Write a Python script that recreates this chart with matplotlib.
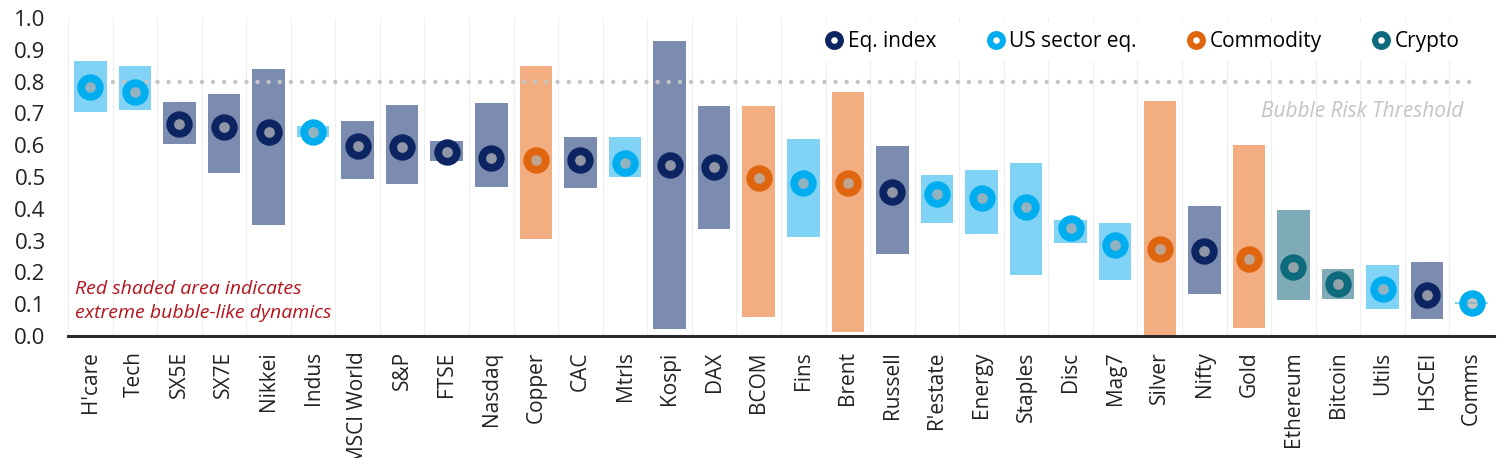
import numpy as np
import matplotlib
matplotlib.use("Agg")
import matplotlib.pyplot as plt
from matplotlib.lines import Line2D
from matplotlib import font_manager

names = ["H'care", "Tech", "SX5E", "SX7E", "Nikkei", "Indus", "MSCI World", "S&P", "FTSE",
         "Nasdaq", "Copper", "CAC", "Mtrls", "Kospi", "DAX", "BCOM", "Fins", "Brent",
         "Russell", "R'estate", "Energy", "Staples", "Disc", "Mag7", "Silver", "Nifty",
         "Gold", "Ethereum", "Bitcoin", "Utils", "HSCEI", "Comms"]
kinds = ["U", "U", "E", "E", "E", "U", "E", "E", "E", "E", "C", "E", "U", "E", "E", "C",
         "U", "C", "E", "U", "U", "U", "U", "U", "C", "E", "C", "K", "K", "U", "E", "U"]
current = [0.784, 0.766, 0.666, 0.656, 0.643, 0.643, 0.598, 0.593, 0.580, 0.559, 0.553,
           0.553, 0.545, 0.538, 0.532, 0.496, 0.482, 0.482, 0.454, 0.446, 0.435, 0.407,
           0.341, 0.286, 0.275, 0.266, 0.243, 0.216, 0.164, 0.148, 0.130, 0.105]
low = [0.704, 0.712, 0.604, 0.513, 0.348, 0.627, 0.495, 0.479, 0.549, 0.470, 0.305, 0.466,
       0.500, 0.021, 0.336, 0.060, 0.311, 0.014, 0.257, 0.354, 0.321, 0.192, 0.291, 0.176,
       0.003, 0.132, 0.024, 0.114, 0.117, 0.086, 0.054, 0.102]
high = [0.865, 0.850, 0.737, 0.760, 0.840, 0.660, 0.677, 0.725, 0.613, 0.734, 0.848, 0.625,
        0.627, 0.929, 0.722, 0.724, 0.620, 0.768, 0.597, 0.507, 0.521, 0.543, 0.365, 0.355,
        0.738, 0.410, 0.601, 0.395, 0.211, 0.222, 0.232, 0.108]
threshold = 0.8

kind_labels = {"E": "Eq. index", "U": "US sector eq.", "C": "Commodity", "K": "Crypto"}
ring_col = {"E": "#0c2461", "U": "#00aeef", "C": "#e0650f", "K": "#0d6b7d"}
box_col = {"E": "#7c8bb0", "U": "#80d3f5", "C": "#f2ae80", "K": "#7fabb6"}

# pick a font that is actually installed
installed = {f.name for f in font_manager.fontManager.ttflist}
for fam in ["Open Sans", "Noto Sans", "DejaVu Sans"]:
    if fam in installed:
        plt.rcParams["font.family"] = fam
        break

fig = plt.figure(figsize=(14.97, 4.58), dpi=100)
ax = fig.add_axes([0.0454, 0.2664, 0.9526, 0.6943])

x = np.arange(len(names))
for i in x:
    ax.bar(i, high[i] - low[i], bottom=low[i], width=0.73,
           color=box_col[kinds[i]], zorder=2, linewidth=0)
    ax.plot(i, current[i], "o", ms=13.4, mew=5.6, mec=ring_col[kinds[i]],
            mfc=(0.62, 0.62, 0.62, 0.6), zorder=4)

ax.plot([0.5, len(names) - 1], [threshold, threshold], color="#c4c4c4", lw=3.2,
        ls=(0, (0.001, 2.5)), dash_capstyle="round", zorder=3)

for b in np.arange(-0.5, len(names), 1.0):
    ax.axvline(b, color="#efefef", lw=0.8, zorder=0)

ax.set_xlim(-0.5, len(names) - 0.5)
ax.set_ylim(0, 1.0)
ax.set_yticks(np.arange(0, 1.01, 0.1))
ax.set_yticklabels([f"{v:.1f}" for v in np.arange(0, 1.01, 0.1)], fontsize=16, color="#222222")
ax.set_xticks(x)
ax.set_xticklabels(names, rotation=90, fontsize=15, color="#222222")
ax.tick_params(axis="y", length=0, pad=16)
ax.tick_params(axis="x", length=0, pad=11)
for s in ["top", "right", "left"]:
    ax.spines[s].set_visible(False)
ax.spines["bottom"].set_color("#2a2a2a")
ax.spines["bottom"].set_linewidth(2.2)
ax.spines["bottom"].set_zorder(5)

ax.text(0.005, 0.11, "Red shaded area indicates\nextreme bubble-like dynamics",
        transform=ax.transAxes, fontsize=14, style="italic", color="#b5121b",
        ha="left", va="center", linespacing=1.45)
ax.text(len(names) - 1.2, 0.707, "Bubble Risk Threshold", fontsize=15, style="italic",
        color="#c4c4c4", ha="right", va="center")

handles = [Line2D([], [], ls="none", marker="o", ms=9.2, mew=4.4, mec=ring_col[k],
                  mfc="white") for k in ["E", "U", "C", "K"]]
leg = ax.legend(handles, [kind_labels[k] for k in ["E", "U", "C", "K"]], ncol=4,
                loc="upper right", bbox_to_anchor=(0.989, 1.017), fontsize=15,
                frameon=True, facecolor="white", edgecolor="none", framealpha=1,
                handlelength=0.8, handletextpad=0.25, columnspacing=2.45, borderpad=0.4)
leg.set_zorder(6)

fig.savefig("out.png", dpi=100)
